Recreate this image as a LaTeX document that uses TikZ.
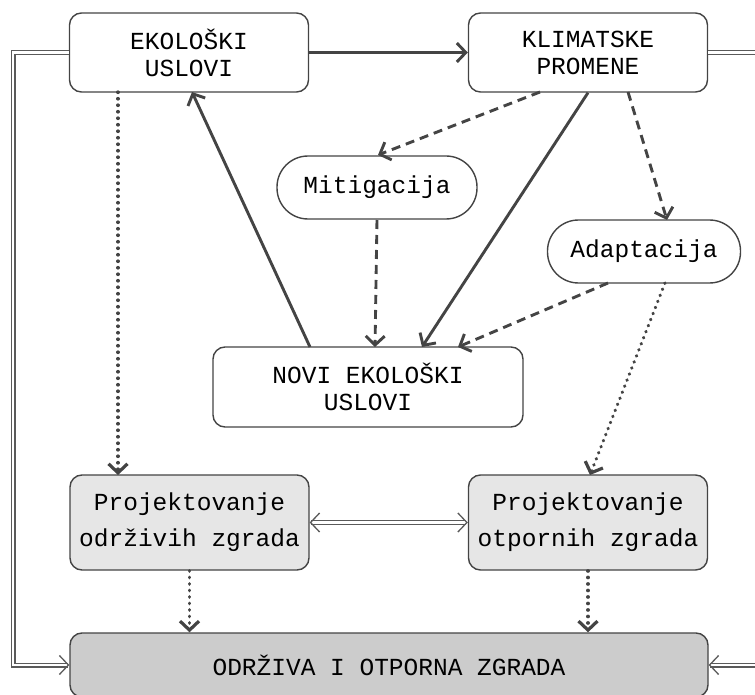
\documentclass[tikz,border=0pt]{standalone}
\usepackage{fontspec}
\setmonofont{Liberation Mono}
\usetikzlibrary{arrows.meta}
\definecolor{linegray}{HTML}{444444}
\definecolor{dblgray}{HTML}{5A5A5A}
\definecolor{projfill}{HTML}{E6E6E6}
\definecolor{goalfill}{HTML}{CCCCCC}
\tikzset{
  box/.style={draw=linegray, line width=1.4pt, rounded corners=12pt,
    minimum width=239pt, minimum height=79pt, align=center, text=black,
    font=\ttfamily\fontsize{24.5}{27}\selectfont},
  pill/.style={box, rounded corners=31pt, minimum height=63pt},
  proj/.style={box, fill=projfill, minimum height=95pt,
    font=\ttfamily\fontsize{24.5}{36}\selectfont},
  goal/.style={box, fill=goalfill, minimum width=638pt, minimum height=64pt},
  vee/.tip={Straight Barb[length=9pt,width=19pt]},
  thinvee/.tip={Straight Barb[length=9pt,width=19pt,line width=1.3pt]},
  solidarrow/.style={draw=linegray, line width=2.9pt, -vee},
  dasharrow/.style={solidarrow, dash pattern=on 9pt off 6pt},
  dotarrow/.style={solidarrow, line width=3.2pt, line cap=round,
    dash pattern=on 0.5pt off 6pt},
  dblline/.style={draw=dblgray, line width=1.2pt, double=white,
    double distance=2.6pt},
}
\begin{document}
\begin{tikzpicture}[x=1pt, y=-1pt]
  \useasboundingbox (0,0) rectangle (755,695);
  \node[box] (eko) at (189,52.5) {EKOLOŠKI\\USLOVI};
  \node[box] (klima) at (588,52.5) {KLIMATSKE\\PROMENE};
  \node[pill, minimum width=200pt] (miti) at (377,187.5) {Mitigacija};
  \node[pill, minimum width=193pt] (adapt) at (644,251.5) {Adaptacija};
  \node[box, minimum width=310pt, minimum height=80pt] (novi) at (368,387) {NOVI EKOLOŠKI\\USLOVI};
  \node[proj] (odrz) at (189.5,522.5) {Projektovanje\\održivih zgrada};
  \node[proj] (otpo) at (588,522.5) {Projektovanje\\otpornih zgrada};
  \node[goal] (zgrada) at (389,665) {ODRŽIVA I OTPORNA ZGRADA};
  \coordinate (lt) at (13,52.5);
  \coordinate (lb) at (13,665);
  \coordinate (rt) at (766,52.5);
  \coordinate (rb) at (766,665);
  \begin{scope}[solidarrow]
    \draw (eko) to (klima);
    \draw (klima.south) to (422,347);
    \draw (310,347) to (192,92);
  \end{scope}
  \begin{scope}[dasharrow]
    \draw (540,92) to (378,155);
    \draw (628,92) to (667,220);
    \draw (377,220) to (375,347);
    \draw (608,283) to (458,347);
  \end{scope}
  \begin{scope}[dotarrow]
    \draw (118,92) to (118,475);
    \draw (665,283) to (590,475);
    \draw (odrz) to (zgrada.north -| odrz);
    \draw (otpo) to (zgrada.north -| otpo);
  \end{scope}
  \draw[dblline, thinvee-thinvee] (odrz) to (otpo);
  \draw[dblline, -thinvee] (eko) -- (lt) -- (lb) -- (zgrada);
  \draw[dblline, -thinvee] (klima) -- (rt) -- (rb) -- (zgrada);
\end{tikzpicture}
\end{document}
